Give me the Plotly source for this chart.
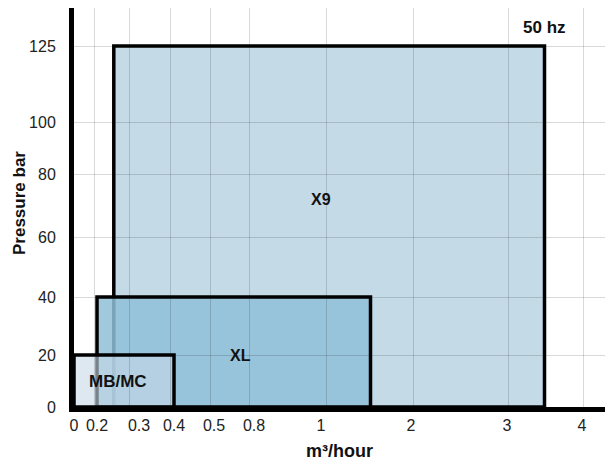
import numpy as np
import plotly.graph_objects as go

# flow axis ticks (m3/hour) and pressure axis ticks (bar)
FLOW_TICKS = [0, 0.2, 0.3, 0.4, 0.5, 0.8, 1, 2, 3, 4]
FLOW_LABELS = ["0", "0.2", "0.3", "0.4", "0.5", "0.8", "1", "2", "3", "4"]
PRESSURE_TICKS = [0, 20, 40, 60, 80, 100, 125]

# pump operating envelopes
MODELS = ["X9", "XL", "MB/MC"]
FLOW_MIN = [0.24, 0.2, 0]
FLOW_MAX = [3.5, 1.55, 0.4]
PRESSURE_MIN = [0, 0, 0]
PRESSURE_MAX = [125, 40, 20]
LABEL_FLOW = [1.0, 0.7, 0.25]
LABEL_PRESSURE = [72, 20, 10]

# the printed chart has an uneven scale on both axes, so ticks get
# hand placed screen positions (window pixels) and values are interpolated
PAGE_MARGIN = 8  # default body margin of the html page
W, H = 613 - PAGE_MARGIN, 462 - PAGE_MARGIN
X0_PX, Y0_PX = 74, 407  # plot area left / bottom edge in window pixels
TOP_PX = 8
X_TICK_PX = [74, 97, 139, 174, 214, 254, 321, 411, 507, 582]
X_GRID_PX = [94.5, 129, 170, 210, 249, 326, 413, 508, 583]
Y_TICK_PX = [407, 355, 297, 237, 174, 122, 46]

L = X0_PX - PAGE_MARGIN
T = TOP_PX - PAGE_MARGIN
B = H - (Y0_PX - PAGE_MARGIN)
PLOT_W = W - L
PLOT_H = H - T - B


def fx(v):
    return np.interp(v, FLOW_TICKS, [p - X0_PX for p in X_TICK_PX])


def fy(v):
    return np.interp(v, PRESSURE_TICKS, [Y0_PX - p for p in Y_TICK_PX])


def paper(px, py):
    return (px - X0_PX) / PLOT_W, (Y0_PX - py) / PLOT_H


FILLS = ["rgba(196,218,231,1)", "rgba(145,192,216,0.85)", "rgba(199,217,230,0.6)"]
LABEL_SIZES = [16, 16, 17]

fig = go.Figure()
for i, name in enumerate(MODELS):
    fig.add_shape(
        type="rect",
        xref="x", yref="y",
        x0=fx(FLOW_MIN[i]), x1=fx(FLOW_MAX[i]),
        y0=fy(PRESSURE_MIN[i]), y1=fy(PRESSURE_MAX[i]),
        fillcolor=FILLS[i],
        line=dict(color="black", width=3.5),
        layer="below",
    )
    fig.add_annotation(
        x=fx(LABEL_FLOW[i]), y=fy(LABEL_PRESSURE[i]),
        text="<b>%s</b>" % name, showarrow=False,
        xanchor="center", yanchor="middle",
        font=dict(size=LABEL_SIZES[i], color="#111"),
    )

for txt, (px, py), angle, size in [
    ("<b>50 hz</b>", (544, 27), 0, 17),
    ("<b>Pressure bar</b>", (19, 203), -90, 17),
    ("<b>m³/hour</b>", (339, 451), 0, 18),
]:
    ax, ay = paper(px, py)
    fig.add_annotation(
        xref="paper", yref="paper", x=ax, y=ay, text=txt, textangle=angle,
        showarrow=False, xanchor="center", yanchor="middle",
        font=dict(size=size, color="#111"),
    )

grid = "rgba(0,0,0,0.15)"
fig.update_layout(
    width=W, height=H,
    margin=dict(l=L, r=0, t=T, b=B, pad=0),
    plot_bgcolor="white", paper_bgcolor="white",
    font=dict(family="Liberation Sans, Arial, sans-serif", size=16, color="#222"),
    showlegend=False,
    xaxis=dict(
        range=[0, PLOT_W], tickmode="array",
        tickvals=list(fx(FLOW_TICKS)), ticktext=FLOW_LABELS,
        showgrid=False, zeroline=False, ticks="",
        showline=True, linecolor="black", linewidth=5,
        ticklabelstandoff=0,
        minor=dict(tickmode="array", tickvals=[p - X0_PX for p in X_GRID_PX],
                   showgrid=True, gridcolor=grid, gridwidth=1, ticks=""),
    ),
    yaxis=dict(
        range=[0, PLOT_H], tickmode="array",
        tickvals=list(fy(PRESSURE_TICKS)), ticktext=[str(v) for v in PRESSURE_TICKS],
        showgrid=True, gridcolor=grid, gridwidth=1, zeroline=False, ticks="",
        showline=True, linecolor="black", linewidth=5,
        ticklabelstandoff=10,
    ),
)

fig.write_html("out.html")
